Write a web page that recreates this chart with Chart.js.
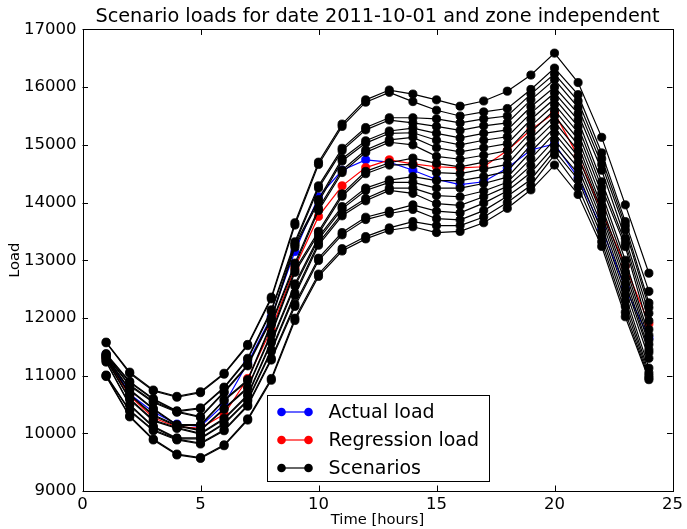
<!DOCTYPE html>
<html>
<head>
<meta charset="utf-8">
<script src="https://cdn.jsdelivr.net/npm/chart.js@4"></script>
<style>
  html, body { margin: 0; padding: 0; background: #ffffff; }
  #wrap { width: 687px; height: 529px; position: relative; }
  canvas { display: block; }
</style>
</head>
<body>
<div id="wrap"><canvas id="c" width="687" height="529"></canvas></div>
<script>
// ---- data ----
const hours = [1,2,3,4,5,6,7,8,9,10,11,12,13,14,15,16,17,18,19,20,21,22,23,24];
const xTicks = [0, 5, 10, 15, 20, 25];
const yTicks = [9000, 10000, 11000, 12000, 13000, 14000, 15000, 16000, 17000];

const actualLoad = [11370,10680,10370,10160,10120,10500,11220,12020,13150,14100,14560,14740,14700,14560,14400,14310,14360,14600,14910,15015,14430,13550,12520,11650];
const regressionLoad = [11300,10650,10270,10110,10090,10330,10950,11800,12870,13760,14290,14605,14740,14670,14620,14600,14620,14900,15260,15550,14800,13850,12900,11900];

const s1  = [11580,11060,10750,10640,10720,11040,11540,12360,13650,14700,15360,15780,15950,15880,15780,15670,15760,15930,16210,16590,16080,15130,13960,12775];
const s2  = [11570,11040,10735,10625,10705,11025,11520,12330,13610,14660,15320,15740,15910,15750,15600,15500,15570,15630,15960,16330,15870,14860,13670,12460];
const s3  = [11380,10900,10600,10390,10440,10800,11300,12140,13320,14290,14940,15300,15470,15470,15450,15380,15450,15500,15880,16230,15760,14760,13600,12260];
const s4  = [11365,10885,10585,10375,10425,10785,11280,12110,13280,14250,14900,15260,15430,15380,15320,15250,15330,15380,15780,16130,15650,14660,13525,12180];
const s5  = [11360,10840,10550,10380,10290,10720,11190,12000,13265,14050,14760,15070,15240,15290,15200,15120,15200,15260,15660,16000,15540,14560,13380,12080];
const s6  = [11345,10825,10535,10365,10275,10705,11170,11970,13225,14010,14720,15030,15200,15210,15080,15000,15080,15140,15550,15900,15430,14360,13300,11950];
const s7  = [11340,10760,10430,10150,10150,10580,10930,11910,12950,13900,14560,14910,15085,15130,14950,14880,14950,15020,15440,15800,15320,14260,13236,11800];
const s8  = [11325,10745,10415,10135,10135,10565,10910,11880,12910,13860,14520,14870,15045,15000,14800,14750,14820,14900,15330,15700,15210,14160,13000,11700];
const s9  = [11320,10680,10320,10140,10060,10430,10800,11740,12830,13500,14150,14540,14690,14770,14680,14620,14700,14780,15220,15600,15100,14050,12900,11620];
const s10 = [11305,10665,10305,10125,10045,10415,10780,11710,12790,13460,14110,14500,14650,14660,14520,14500,14580,14660,15110,15500,15000,13930,12800,11540];
const s11 = [11290,10600,10230,10100,10000,10260,10670,11600,12590,13400,13930,14250,14390,14450,14380,14380,14450,14540,15000,15400,14900,13860,12700,11450];
const s12 = [11275,10585,10215,10085,9985,10245,10650,11570,12550,13360,13890,14210,14350,14350,14250,14250,14330,14440,14880,15300,14800,13790,12600,11400];
const s13 = [11250,10500,10120,9920,9920,10175,10580,11450,12430,13300,13810,14070,14250,14250,14120,14100,14200,14350,14760,15200,14700,13700,12500,11300];
const s14 = [11235,10485,10105,9905,9905,10160,10560,11420,12390,13260,13770,14030,14210,14160,13980,13950,14100,14280,14640,15085,14600,13600,12400,11130];
const s15 = [11010,10400,10060,9900,9830,10060,10490,11300,12240,13035,13480,13745,13850,13960,13850,13820,13990,14200,14520,14980,14500,13500,12300,11050];
const s16 = [10995,10385,10045,9885,9815,10045,10470,11270,12200,12995,13440,13705,13810,13880,13720,13700,13860,14110,14400,14900,14400,13410,12200,11000];
const s17 = [11000,10300,9900,9640,9580,9800,10250,10950,11995,12760,13200,13410,13560,13670,13600,13600,13750,14000,14300,14825,14270,13320,12100,10960];
const s18 = [10985,10285,9885,9625,9565,9785,10230,10920,11955,12720,13160,13370,13520,13580,13480,13500,13650,13900,14220,14650,14140,13240,12020,10930];
const scenarios = [s1,s2,s3,s4,s5,s6,s7,s8,s9,s10,s11,s12,s13,s14,s15,s16,s17,s18];

const titleText = 'Scenario loads for date 2011-10-01 and zone independent';
const legendLabels = ['Actual load', 'Regression load', 'Scenarios'];
const legendColors = ['#0000ff', '#ff0000', '#000000'];

// ---- build ----
const FONT = "'DejaVu Sans', sans-serif";
function pts(arr) { return arr.map((v, i) => ({x: hours[i], y: v})); }
function ds(label, arr, color, order) {
  return {
    label, data: pts(arr), order,
    borderColor: color, backgroundColor: color,
    pointBackgroundColor: color, pointBorderColor: color,
    borderWidth: 1.2, pointRadius: 4.1, pointBorderWidth: 0.8,
    pointHoverRadius: 4.1, tension: 0, fill: false
  };
}
const datasets = [];
datasets.push(ds(legendLabels[0], actualLoad, '#0000ff', 3));
datasets.push(ds(legendLabels[1], regressionLoad, '#ff0000', 2));
scenarios.forEach((s, i) => datasets.push(ds(legendLabels[2] + ' ' + (i + 1), s, '#000000', 1)));

const framePlugin = {
  id: 'frameTicks',
  afterDatasetsDraw(chart) {
    const {ctx, chartArea: a, scales: {x, y}} = chart;
    ctx.save();
    ctx.strokeStyle = '#000';
    ctx.lineWidth = 1;
    const L = 5.5;
    const line = (x1, y1, x2, y2) => { ctx.beginPath(); ctx.moveTo(x1, y1); ctx.lineTo(x2, y2); ctx.stroke(); };
    x.ticks.forEach(t => {
      const px = Math.round(x.getPixelForValue(t.value)) + 0.5;
      line(px, a.bottom, px, a.bottom - L);
      line(px, a.top, px, a.top + L);
    });
    y.ticks.forEach(t => {
      const py = Math.round(y.getPixelForValue(t.value)) + 0.5;
      line(a.left, py, a.left + L, py);
      line(a.right, py, a.right - L, py);
    });
    ctx.strokeRect(Math.round(a.left) + 0.5, Math.round(a.top) + 0.5,
                   Math.round(a.right - a.left), Math.round(a.bottom - a.top));
    ctx.restore();
  },
  afterDraw(chart) {
    const {ctx, chartArea: a} = chart;
    const w = 222, h = 86;
    const cx = (a.left + a.right) / 2;
    const left = Math.round(cx - w / 2) + 0.5;
    const top = Math.round(a.bottom - 9.5 - h) + 0.5;
    ctx.save();
    ctx.fillStyle = '#ffffff';
    ctx.fillRect(left, top, w, h);
    ctx.strokeStyle = '#000';
    ctx.lineWidth = 1;
    ctx.strokeRect(left, top, w, h);
    ctx.font = '19px ' + FONT;
    ctx.textBaseline = 'middle';
    ctx.textAlign = 'left';
    legendLabels.forEach((lab, i) => {
      const ry = top + 16.5 + i * 28;
      const c = legendColors[i];
      ctx.strokeStyle = c; ctx.lineWidth = 1.2;
      ctx.beginPath(); ctx.moveTo(left + 14, ry); ctx.lineTo(left + 41, ry); ctx.stroke();
      ctx.fillStyle = c;
      [left + 14, left + 41].forEach(px => { ctx.beginPath(); ctx.arc(px, ry, 4.3, 0, Math.PI * 2); ctx.fill(); });
      ctx.fillStyle = '#000';
      ctx.fillText(lab, left + 61, ry + 1);
    });
    ctx.restore();
  }
};

new Chart(document.getElementById('c'), {
  type: 'line',
  data: { datasets },
  plugins: [framePlugin],
  options: {
    responsive: false,
    animation: false,
    devicePixelRatio: 1,
    layout: { padding: { left: 0, right: 9, top: 0, bottom: 0 } },
    plugins: {
      legend: { display: false },
      tooltip: { enabled: false },
      title: {
        display: true, text: titleText, color: '#000', fullSize: false,
        font: { family: FONT, size: 19.3, weight: 'normal', lineHeight: 1.2 },
        padding: { top: 5, bottom: 1.3 }
      }
    },
    scales: {
      x: {
        type: 'linear', min: 0, max: 25,
        afterBuildTicks: (sc) => { sc.ticks = xTicks.map(v => ({value: v})); },
        afterFit: (sc) => { sc.height = 38; },
        grid: { display: false, drawTicks: false },
        border: { display: false },
        ticks: { color: '#000', font: { family: FONT, size: 16.5 }, padding: 4, maxRotation: 0,
                 callback: (v) => String(v) },
        title: { display: true, text: 'Time [hours]', color: '#000', font: { family: FONT, size: 14.7 }, padding: { top: 0, bottom: 0 } }
      },
      y: {
        type: 'linear', min: 9000, max: 17000,
        afterBuildTicks: (sc) => { sc.ticks = yTicks.map(v => ({value: v})); },
        afterFit: (sc) => { sc.width = 82.5; },
        grid: { display: false, drawTicks: false },
        border: { display: false },
        ticks: { color: '#000', font: { family: FONT, size: 16.5 }, padding: 6,
                 callback: (v) => String(v) },
        title: { display: true, text: 'Load', color: '#000', font: { family: FONT, size: 14.7 }, padding: { top: 6, bottom: 0 } }
      }
    }
  }
});
</script>
</body>
</html>
